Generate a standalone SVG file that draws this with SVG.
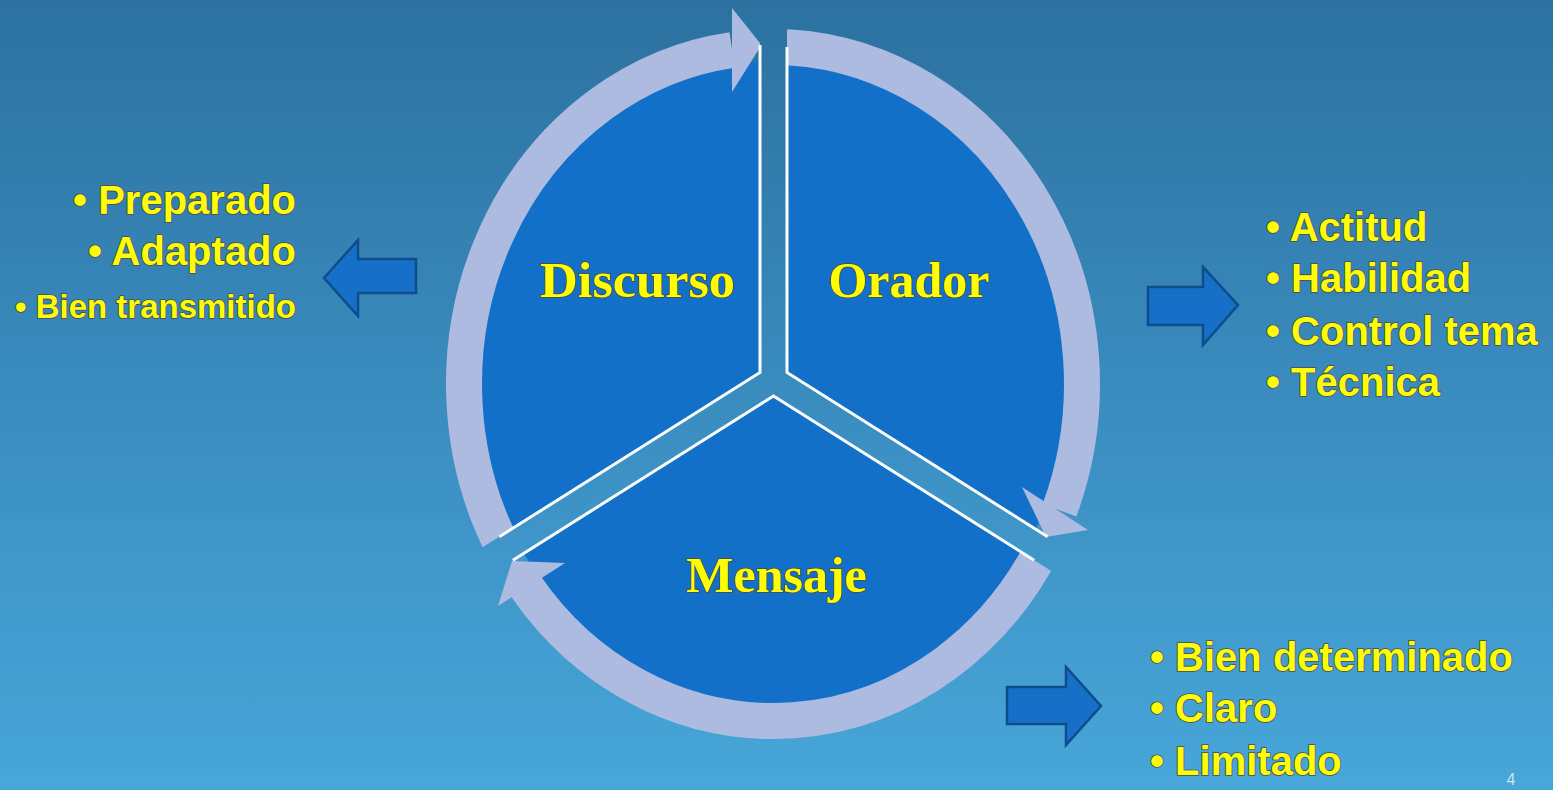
<svg xmlns="http://www.w3.org/2000/svg" width="1553" height="790" viewBox="0 0 1553 790">
<defs>
<linearGradient id="bg" gradientUnits="userSpaceOnUse" x1="0" y1="0" x2="0" y2="790">
<stop offset="0" stop-color="#2c719f"/>
<stop offset="0.5" stop-color="#3a8cbf"/>
<stop offset="1" stop-color="#48a6d8"/>
</linearGradient>
<mask id="gapmask" maskUnits="userSpaceOnUse" x="0" y="0" width="1553" height="790">
<rect x="0" y="0" width="1553" height="790" fill="#fff"/>
<polygon points="760,-20 787,-20 787,372.5 1108.5,575 1095,598.5 773.5,396 452,598.5 438.5,575 760,372.5" fill="#000"/>
</mask>
<style>
.sector{fill:#1370c9}
.edge{fill:none;stroke:#ffffff;stroke-width:3;stroke-linejoin:miter}
.ring{fill:none;stroke:#adbbe0;stroke-width:36}
.head{fill:#adbbe0}
.block{fill:#1770c8;stroke:#0e4c8c;stroke-width:2.5;stroke-linejoin:miter}
.label{font-family:"Liberation Serif","DejaVu Serif",serif;font-weight:bold;font-size:50px;fill:#ffff00;stroke:#4a4a40;stroke-width:1.5;paint-order:stroke fill;text-anchor:middle}
.item{font-family:"Liberation Sans",Arial,sans-serif;font-weight:bold;font-size:40px;fill:#ffff00;stroke:#4a4a55;stroke-width:1.6;paint-order:stroke fill}
.small{font-size:33px}
</style>
</defs>
<rect x="0" y="0" width="1553" height="790" fill="url(#bg)"/>

<g id="node-discurso">
<path class="sector" d="M760,372.5 L760,61.3 A295,322 0 0 0 510.4,529.7 Z"/>
<text class="label" x="637.5" y="297" textLength="195" lengthAdjust="spacingAndGlyphs">Discurso</text>
</g>
<g id="node-orador">
<path class="sector" d="M787,372.5 L787,61.4 A295,322 0 0 1 1035.7,529.2 Z"/>
<text class="label" x="909" y="297">Orador</text>
</g>
<g id="node-mensaje">
<path class="sector" d="M773.5,396 L1023.2,553.3 A295,322 0 0 1 523.8,553.3 Z"/>
<text class="label" x="776.5" y="592">Mensaje</text>
</g>

<g id="connectors">
<g mask="url(#gapmask)">
<path class="ring" d="M504.05,549.9 A309,337 0 0 1 732.1,50"/>
<polygon class="head" points="761.5,45 732,8 732,92"/>
<path class="ring" d="M773,47 A309,337 0 0 1 1059.5,510.2"/>
<polygon class="head" points="1046,537 1088,530 1022,487"/>
<path class="ring" d="M1041.95,549.9 A309,337 0 0 1 526.2,586.8"/>
<polygon class="head" points="512,561 498,606 565,563"/>
</g>
<polyline class="edge" points="760,45 760,372.5 499.4,536.7"/>
<polyline class="edge" points="787,47 787,372.5 1047.6,536.7"/>
<polyline class="edge" points="512.9,560.2 773.5,396 1034.1,560.2"/>
<polygon class="block" points="324,278 358,240 358,259 416,259 416,293 358,293 358,316"/>
<polygon class="block" points="1148,287 1203,287 1203,267 1238,305 1203,345 1203,325 1148,325"/>
<polygon class="block" points="1007,687 1066,687 1066,667 1101,706 1066,745 1066,724 1007,724"/>
</g>

<g id="list-discurso">
<text class="item" x="296" y="214" text-anchor="end">• Preparado</text>
<text class="item" x="296" y="265" text-anchor="end">• Adaptado</text>
<text class="item small" x="296" y="318" text-anchor="end">• Bien transmitido</text>
</g>
<g id="list-orador">
<text class="item" x="1266" y="241">• Actitud</text>
<text class="item" x="1266" y="292">• Habilidad</text>
<text class="item" x="1266" y="345">• Control tema</text>
<text class="item" x="1266" y="396">• Técnica</text>
</g>
<g id="list-mensaje">
<text class="item" x="1150" y="671">• Bien determinado</text>
<text class="item" x="1150" y="722">• Claro</text>
<text class="item" x="1150" y="775">• Limitado</text>
</g>
<text x="1511" y="785" font-family="Liberation Sans,Arial,sans-serif" font-size="16" fill="#c8e6f4" text-anchor="middle">4</text>
</svg>
